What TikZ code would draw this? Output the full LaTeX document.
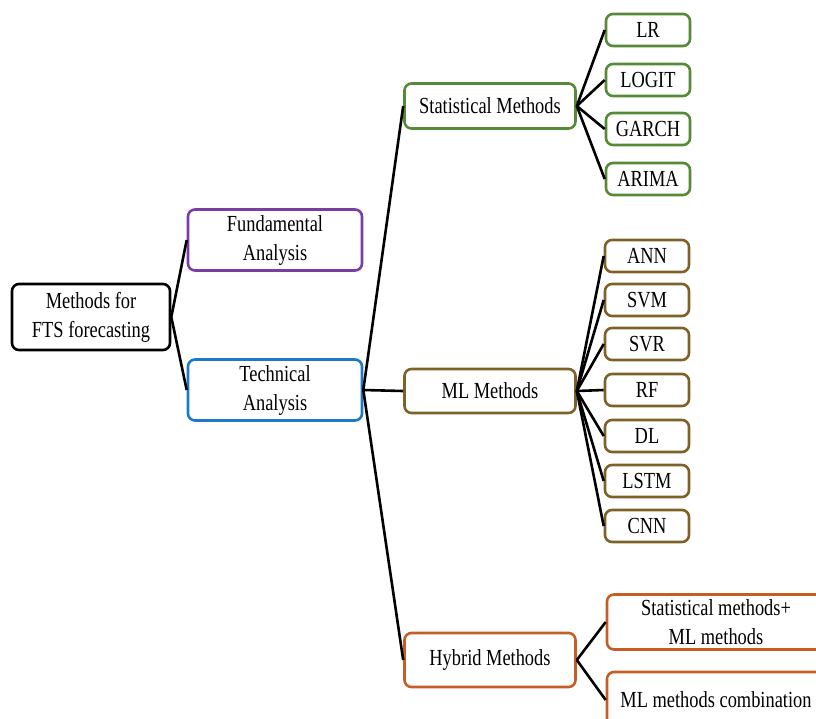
\documentclass[tikz,border=0pt]{standalone}
\usepackage{fontspec}
\setmainfont{Liberation Serif}[FakeStretch=0.8]
\definecolor{cpurple}{HTML}{7A3DA3}
\definecolor{cblue}{HTML}{1F78C4}
\definecolor{cgreen}{HTML}{548A38}
\definecolor{cbrown}{HTML}{7E6128}
\definecolor{corange}{HTML}{C55E25}
\tikzset{
  box/.style={draw, line width=2.6pt, rounded corners=7pt, fill=white, align=center,
    inner sep=0pt, font=\fontsize{23}{29}\selectfont},
  leaf/.style={box, minimum width=84pt, minimum height=32pt},
  link/.style={line width=2.6pt, black}
}
\begin{document}
\begin{tikzpicture}[x=1pt,y=-1pt]
\clip (0,0) rectangle (816,718);
\fill[white] (0,0) rectangle (816,718);
% main nodes
\node[box, draw=black, minimum width=158pt, minimum height=66pt] (root) at (91,317) {Methods for\\FTS forecasting};
\node[box, draw=cpurple, minimum width=174pt, minimum height=61pt] (fund) at (275,240) {Fundamental\\Analysis};
\node[box, draw=cblue, minimum width=174pt, minimum height=61pt] (tech) at (275,390) {Technical\\Analysis};
\node[box, draw=cgreen, minimum width=171pt, minimum height=45pt] (stat) at (490,106) {Statistical Methods};
\node[box, draw=cbrown, minimum width=171pt, minimum height=44pt] (ml) at (490,391) {ML Methods};
\node[box, draw=corange, minimum width=171pt, minimum height=54pt] (hyb) at (490,660) {Hybrid Methods};
% statistical leaves
\node[leaf, draw=cgreen] (lr) at (648,30) {LR};
\node[leaf, draw=cgreen] (logit) at (648,80) {LOGIT};
\node[leaf, draw=cgreen] (garch) at (648,129) {GARCH};
\node[leaf, draw=cgreen] (arima) at (648,179) {ARIMA};
% ML leaves
\node[leaf, draw=cbrown] (ann) at (647,256) {ANN};
\node[leaf, draw=cbrown] (svm) at (647,300) {SVM};
\node[leaf, draw=cbrown] (svr) at (647,344) {SVR};
\node[leaf, draw=cbrown] (rf) at (647,390) {RF};
\node[leaf, draw=cbrown] (dl) at (647,436) {DL};
\node[leaf, draw=cbrown] (lstm) at (647,481) {LSTM};
\node[leaf, draw=cbrown] (cnn) at (647,526) {CNN};
% hybrid leaves
\node[box, draw=corange, minimum width=218pt, minimum height=55pt] (h1) at (716,622) {Statistical methods+\\ML methods};
\node[box, draw=corange, minimum width=218pt, minimum height=56pt] (h2) at (716,700) {ML methods combination};
% connectors
\draw[link] (root.east) -- (fund.west);
\draw[link] (root.east) -- (tech.west);
\draw[link] (tech.east) -- (stat.west);
\draw[link] (tech.east) -- (ml.west);
\draw[link] (tech.east) -- (hyb.west);
\foreach \n in {lr,logit,garch,arima} \draw[link] (stat.east) -- (\n.west);
\foreach \n in {ann,svm,svr,rf,dl,lstm,cnn} \draw[link] (ml.east) -- (\n.west);
\draw[link] (hyb.east) -- (h1.west);
\draw[link] (hyb.east) -- (h2.west);
\end{tikzpicture}
\end{document}
